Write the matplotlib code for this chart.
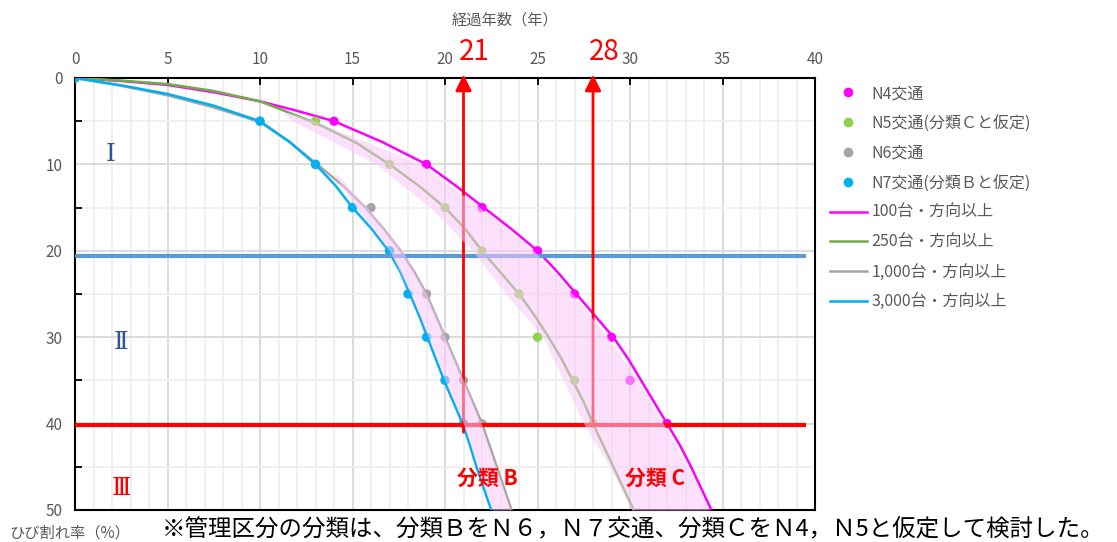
import matplotlib
matplotlib.use('Agg')
import matplotlib.pyplot as plt
from matplotlib.lines import Line2D

plt.rcParams['font.family'] = ['Noto Sans CJK JP', 'DejaVu Sans']

# OBSERVED POINTS (years, crack ratio %):
crack_levels = [0, 5, 10, 15, 20, 25, 30, 35, 40]
n4_years = [0, 14, 19, 22, 25, 27, 29, 30, 32]
n5_years = [0, 13, 17, 20, 22, 24, 25, 27, 28]
n6_years = [0, 10, 13, 16, 17, 19, 20, 21, 22]
n7_years = [0, 10, 13, 15, 17, 18, 19, 20, 21]

# DETERIORATION CURVES:
c100_x = [0, 2.5, 5, 7.5, 10, 12, 14, 16.6, 19, 20.6, 22.1, 23.6, 25, 26.1, 27.1, 28.1, 29.1,
          29.9, 30.6, 31.3, 32.0, 32.7, 33.3, 33.85, 34.4]
c100_y = [0, 0.35, 0.8, 1.65, 2.7, 3.8, 5, 7.4, 10, 12.5, 15, 17.5, 20, 22.5, 25, 27.5, 30,
          32.5, 35, 37.5, 40, 42.5, 45, 47.5, 50]
c250_x = [0, 2.5, 5, 7.5, 10, 13, 15.2, 17, 18.6, 20, 21.1, 22, 23, 24, 24.85, 25.6, 26.3,
          26.9, 27.5, 28.0, 28.55, 29.1, 29.65, 30.2]
c250_y = [0, 0.3, 0.7, 1.5, 2.7, 5.2, 7.5, 10, 12.5, 15, 17.5, 20, 22.5, 25, 27.5, 30, 32.5,
          35, 37.5, 40, 42.5, 45, 47.5, 50]
c1000_x = [0, 2.5, 5, 7.5, 10, 11.6, 13.1, 14.5, 15.7, 16.7, 17.6, 18.35, 19, 19.5, 20, 20.5,
           21.0, 21.5, 22.0, 22.4, 22.8, 23.2, 23.6]
c1000_y = [0, 0.9, 2.0, 3.4, 5.1, 7.4, 10, 12.5, 15, 17.5, 20, 22.5, 25, 27.5, 30, 32.5,
           35, 37.5, 40, 42.5, 45, 47.5, 50]
c3000_x = [0, 2.5, 5, 7.5, 10, 11.6, 13, 14.1, 15, 16.05, 16.95, 17.6, 18.1, 18.6, 19.05,
           19.5, 19.95, 20.45, 20.95, 21.35, 21.7, 22.1, 22.5]
c3000_y = [0, 0.85, 1.85, 3.2, 5, 7.4, 10, 12.5, 15, 17.5, 20, 22.5, 25, 27.5, 30,
           32.5, 35, 37.5, 40, 42.5, 45, 47.5, 50]

# PINK BANDS (classification B / C ranges):
band_b_y = [11.2, 15, 20, 25, 30, 35, 40, 45, 50]
band_b_left = [14.0, 15.2, 17.0, 18.15, 19.1, 20.0, 21.0, 21.75, 22.55]
band_b_right = [14.2, 15.8, 17.7, 19.0, 20.0, 21.0, 21.95, 22.75, 23.55]
band_c_y = [4, 5, 10, 15, 20, 25, 30, 35, 40, 45, 50]
band_c_left = [11.2, 11.8, 16.3, 19.2, 21.5, 23.3, 25.3, 26.4, 27.5, 28.9, 30.1]
band_c_right = [11.6, 13.0, 18.7, 21.9, 24.8, 26.9, 28.8, 30.4, 31.8, 33.1, 34.3]

# THRESHOLDS:
limit_1 = 20.6   # I / II boundary
limit_2 = 40.2   # II / III boundary
line_end = 39.5
arrow_years = [21, 28]
arrow_bottoms = [41.0, 40.2]

legend_labels = ['N4交通', 'N5交通(分類Ｃと仮定)', 'N6交通', 'N7交通(分類Ｂと仮定)',
                 '100台・方向以上', '250台・方向以上', '1,000台・方向以上', '3,000台・方向以上']
point_colors = ['#FF00FF', '#92D050', '#A5A5A5', '#00B0F0']
line_colors = ['#FF00FF', '#70AD47', '#A5A5A5', '#00B0F0']

TXT = '#595959'
PINK = (250 / 255, 200 / 255, 250 / 255)

fig = plt.figure(figsize=(11.17, 5.42), dpi=100)
ax = fig.add_axes([75 / 1117, 1 - 510 / 542, 740 / 1117, 432 / 542])

# curves
for xs, ys, col in zip([c100_x, c250_x, c1000_x, c3000_x], [c100_y, c250_y, c1000_y, c3000_y], line_colors):
    ax.plot(xs, ys, color=col, lw=1.8, zorder=3, solid_joinstyle='round', solid_capstyle='round')

# points
for xs, col in zip([n4_years, n5_years, n6_years, n7_years], point_colors):
    ax.scatter(xs, crack_levels, s=45, color=col, edgecolors='none', zorder=4)

# threshold lines
ax.plot([0, line_end], [limit_1, limit_1], color='#5B9BD5', lw=3, zorder=6, solid_capstyle='butt')
ax.plot([0, line_end], [limit_2, limit_2], color='#FF0000', lw=3, zorder=6, solid_capstyle='butt')

# arrows + year labels
for yr, yb in zip(arrow_years, arrow_bottoms):
    ax.annotate('', xy=(yr, -0.4), xytext=(yr, yb), annotation_clip=False, zorder=7,
                arrowprops=dict(arrowstyle='-|>', color='#FF0000', lw=2, mutation_scale=24,
                                shrinkA=0, shrinkB=0))
    ax.text(yr + 0.6, -3.0, str(yr), color='#FF0000', fontsize=20, ha='center', va='center',
            clip_on=False)

# pink bands (drawn on top, semi transparent)
ax.fill_betweenx(band_b_y, band_b_left, band_b_right, color=PINK, alpha=0.55, lw=0, zorder=8)
ax.fill_betweenx(band_c_y, band_c_left, band_c_right, color=PINK, alpha=0.55, lw=0, zorder=8)

# region labels
roman = ['DejaVu Serif', 'Noto Sans CJK JP']
ax.text(1.9, 8.9, 'Ⅰ', color='#2F5597', fontsize=18, ha='center', va='center', family=roman)
ax.text(2.5, 30.6, 'Ⅱ', color='#2F5597', fontsize=18, ha='center', va='center', family=roman)
ax.text(2.5, 47.5, 'Ⅲ', color='#FF0000', fontsize=18, ha='center', va='center', family=roman)
ax.text(22.3, 46.3, '分類 B', color='#FF0000', fontsize=15, fontweight='bold',
        ha='center', va='center', zorder=9)
ax.text(31.35, 46.3, '分類 C', color='#FF0000', fontsize=15, fontweight='bold',
        ha='center', va='center', zorder=9)

# axes
ax.set_xlim(0, 40)
ax.set_ylim(50, 0)
ax.xaxis.tick_top()
ax.set_xticks(range(0, 41, 5))
ax.set_xticks(range(0, 41, 1), minor=True)
ax.set_yticks(range(0, 51, 10))
ax.set_yticks(range(5, 50, 10), minor=True)
ax.grid(which='major', color='#D9D9D9', lw=1.3, zorder=0)
ax.grid(which='minor', color='#EFEFEF', lw=1.3, zorder=0)
ax.set_axisbelow(True)
ax.tick_params(axis='x', which='major', direction='in', length=5, width=1.3, pad=7,
               labelsize=11, labelcolor=TXT, color='black')
ax.tick_params(axis='x', which='minor', length=0)
ax.tick_params(axis='y', which='major', direction='in', length=0, pad=9,
               labelsize=11, labelcolor=TXT)
ax.tick_params(axis='y', which='minor', direction='in', length=5, width=1.3, color='black')
for sp in ax.spines.values():
    sp.set_color('black')
    sp.set_linewidth(1.5)

# legend
handles = [Line2D([], [], ls='none', marker='o', ms=7, color=c, markeredgewidth=0) for c in point_colors]
handles += [Line2D([], [], color=c, lw=1.8) for c in line_colors]
fig.legend(handles, legend_labels, loc='upper left', bbox_to_anchor=(830 / 1117, 1 - 85 / 542),
           frameon=False, fontsize=11.5, labelcolor=TXT, handlelength=2.3, handletextpad=0.3,
           labelspacing=0.8, borderpad=0, borderaxespad=0)

# texts around
fig.text(505 / 1117, 1 - 20 / 542, '経過年数（年）', color=TXT, fontsize=11, ha='center', va='center')
fig.text(70 / 1117, 1 - 533 / 542, 'ひび割れ率（%）', color=TXT, fontsize=11, ha='center', va='center')
fig.text(162 / 1117, 1 - 530 / 542, '※管理区分の分類は、分類ＢをＮ６，Ｎ７交通、分類ＣをＮ4，Ｎ5と仮定して検討した。',
         color='black', fontsize=16.9, ha='left', va='center')

fig.savefig('out.png', dpi=100)
